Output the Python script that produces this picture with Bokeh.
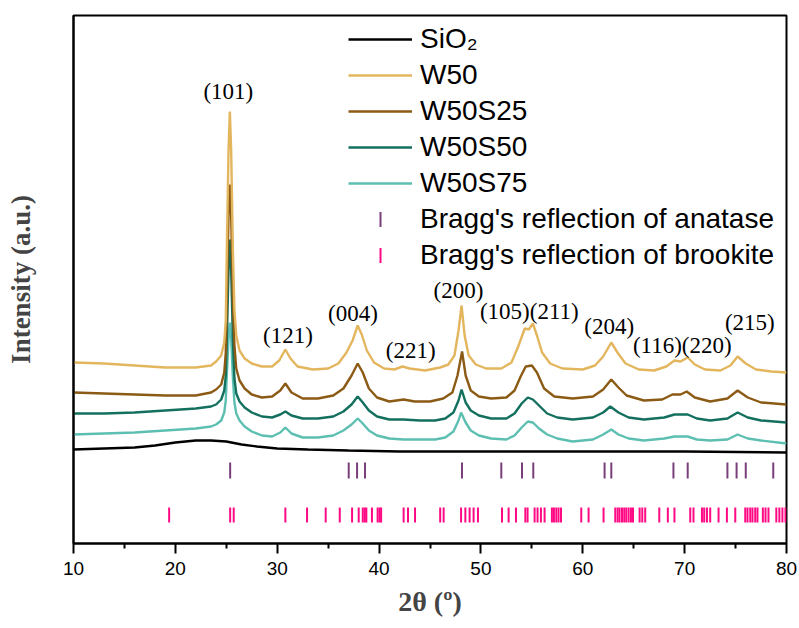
from bokeh.plotting import figure
from bokeh.models import Range1d, FixedTicker, Legend, LegendItem, ColumnDataSource
from bokeh.core.properties import value
from bokeh.embed import file_html
from bokeh.resources import INLINE

# ---- data (2θ in degrees, intensity in a.u.) ----
head_x = [10, 13, 16, 19, 22, 23.5, 24.0, 24.5, 24.8, 24.95, 25.05, 25.22, 25.35, 25.48, 25.65, 25.8, 25.98, 26.3]

w50_x = head_x + [26.8, 27.5,
         28.5, 29.5, 30.2, 30.8, 31.3, 32.0, 33.5, 35.0, 36.0, 36.8, 37.4, 37.9, 38.3, 38.8, 39.5, 40.5, 41.5, 42.3,
         43.0, 44.5, 46.0, 46.8, 47.4, 47.8, 48.1, 48.4, 48.8, 49.5, 50.5, 52.0, 53.0, 53.7, 54.3, 54.7, 55.1, 55.5,
         56.0, 56.8, 58.0, 60.0, 61.2, 62.0, 62.8, 63.4, 64.2, 65.5, 67.0, 68.2, 69.0, 69.6, 70.3, 71.0, 72.0, 73.5,
         74.5, 75.2, 76.0, 77.0, 78.5, 80.0]
w50_y = [181, 180, 178, 176, 176, 178, 182, 188, 201, 223, 293, 393, 432, 393, 293, 233, 208, 193, 185, 180,
         177, 177, 183, 194, 185, 177, 174, 175, 180, 191, 203, 218, 209, 193, 181, 175, 174, 177,
         175, 173, 176, 179, 188, 213, 238, 208, 188, 179, 175, 175, 181, 198, 215, 214, 220, 208,
         191, 180, 175, 174, 178, 187, 201, 191, 180, 174, 173, 177, 183, 182, 186, 179, 174, 173,
         178, 187, 180, 174, 172, 171]

s25_x = head_x + [26.8, 27.5,
         28.5, 29.5, 30.3, 30.8, 31.4, 32.5, 34.0, 35.5, 36.5, 37.3, 37.9, 38.4, 39.0, 39.8, 41.0, 42.4, 43.5,
         45.0, 46.3, 47.2, 47.7, 48.15, 48.5, 49.0, 49.8, 51.0, 52.5, 53.3, 53.9, 54.4, 55.0, 55.5, 56.2, 57.2,
         59.0, 61.0, 62.0, 62.8, 63.5, 64.3, 66.0, 67.8, 68.8, 69.6, 70.2, 71.0, 72.5, 74.2, 75.2, 76.2, 77.5, 80.0]
s25_y = [151, 150, 149, 148, 148, 151, 154, 159, 171, 191, 243, 328, 359, 328, 243, 198, 175, 163, 155, 149,
         146, 147, 153, 160, 151, 145, 145, 148, 155, 168, 180, 171, 155, 146, 142, 144, 142,
         142, 145, 151, 168, 192, 168, 153, 147, 145, 146, 153, 167, 177, 178, 171, 155, 147,
         145, 147, 154, 164, 156, 148, 143, 144, 149, 149, 152, 146, 142, 145, 153, 146, 141, 139]

s50_x = head_x + [26.8, 27.5,
         28.5, 29.5, 30.3, 30.8, 31.4, 32.5, 34.0, 35.5, 36.5, 37.3, 37.9, 38.4, 39.0, 39.8, 41.0, 42.4, 44.0,
         45.5, 46.5, 47.3, 47.8, 48.1, 48.5, 49.0, 49.8, 51.0, 52.5, 53.3, 54.0, 54.6, 55.1, 55.7, 56.5, 57.5,
         59.0, 61.0, 62.0, 62.7, 63.5, 64.5, 66.0, 68.0, 69.0, 70.3, 71.2, 72.5, 74.2, 75.2, 76.2, 77.5, 80.0]
s50_y = [130, 130, 131, 133, 135, 137, 139, 144, 153, 168, 203, 273, 304, 273, 203, 165, 150, 142, 136, 131,
         127, 126, 129, 132, 128, 125, 125, 127, 132, 139, 147, 141, 133, 127, 124, 124, 123,
         123, 125, 131, 143, 154, 141, 133, 128, 125, 125, 130, 140, 146, 144, 138, 130, 126,
         124, 126, 131, 137, 131, 126, 124, 126, 129, 129, 125, 123, 125, 131, 126, 123, 121]

s75_x = head_x + [26.8, 27.5,
         28.5, 29.5, 30.3, 30.8, 31.4, 32.5, 34.0, 35.5, 36.5, 37.3, 37.9, 38.4, 39.0, 39.8, 41.0, 42.4, 44.0,
         45.5, 46.5, 47.3, 47.8, 48.05, 48.5, 49.0, 49.8, 51.0, 52.5, 53.3, 54.0, 54.6, 55.1, 55.7, 56.5, 57.5,
         59.0, 61.0, 62.0, 62.8, 63.5, 64.5, 66.0, 68.0, 69.0, 70.3, 71.2, 72.5, 74.2, 75.2, 76.2, 77.5, 80.0]
s75_y = [109, 110, 111, 113, 115, 117, 119, 123, 131, 143, 168, 205, 221, 205, 165, 141, 130, 123, 117, 112,
         108, 107, 111, 116, 110, 106, 106, 108, 113, 119, 125, 120, 113, 108, 105, 104, 104,
         104, 106, 112, 123, 131, 121, 113, 108, 105, 104, 108, 116, 122, 121, 115, 109, 105,
         102, 104, 109, 114, 109, 105, 103, 105, 107, 107, 104, 103, 104, 109, 105, 103, 100]

sio2_x = [10, 13, 16, 18, 20, 22, 23.5, 25, 26.5, 28, 30, 33, 37, 42, 50, 60, 70, 80]
sio2_y = [94, 95, 96, 98, 101, 103, 103, 102, 99, 97, 95, 94, 93, 92, 92, 92, 92, 91]

anatase_pos = [25.38, 37.02, 37.84, 38.62, 48.14, 52.0, 54.03, 55.14, 62.14, 62.8, 68.9, 70.3,
               74.2, 75.1, 76.0, 78.7]
brookite_pos = [19.39, 25.38, 25.73, 30.8, 32.93, 34.76, 36.14, 37.35, 38.0, 38.4, 38.6, 38.75, 39.3,
                39.86, 40.05, 40.2, 42.41, 42.84, 43.53, 46.0, 46.34, 48.05, 48.47, 48.89, 49.28, 49.71,
                52.07, 52.72, 53.44, 54.36, 54.58, 55.27, 55.56, 55.89, 56.25, 56.97, 57.17, 57.4, 57.62,
                57.86, 59.85, 60.57, 62.04, 63.19, 63.42, 63.61, 63.85, 64.07, 64.27, 64.5, 64.73, 64.93,
                65.58, 65.84, 66.13, 67.51, 68.35, 69.0, 70.55, 70.87, 71.7, 71.92, 72.19, 72.51, 73.33,
                74.15, 74.97, 75.95, 76.17, 76.44, 76.66, 76.93, 77.15, 77.68, 77.94, 78.23, 79.0, 79.3,
                79.6, 79.9]
anatase_level = 73
brookite_level = 28.5

peak_labels = ["(101)", "(121)", "(004)", "(221)", "(200)", "(105)(211)", "(204)", "(116)(220)", "(215)"]
peak_label_x = [25.2, 31.05, 37.43, 43.1, 47.8, 54.75, 62.6, 69.77, 76.4]
peak_label_y = [452, 208, 230, 193, 253, 232, 217, 198, 221]

x_ticks = [10, 20, 30, 40, 50, 60, 70, 80]
x_minor = [15, 25, 35, 45, 55, 65, 75]

# ---- layout constants ----
W, H = 799, 628
BL, BR, BT, BB = 73, 13, 15, 85
FW, FH = W - BL - BR, H - BT - BB

p = figure(width=W, height=H, output_backend="svg", toolbar_location=None,
           x_range=Range1d(10, 80), y_range=Range1d(0, 528))
p.min_border_left = BL
p.min_border_right = BR
p.min_border_top = BT
p.min_border_bottom = BB
p.xgrid.visible = False
p.ygrid.visible = False
p.outline_line_color = "black"
p.outline_line_width = 2
p.background_fill_color = "white"
p.border_fill_color = "white"
# pixel space of the frame, used only to place the legend keys of the Bragg markers
p.extra_x_ranges = {"px": Range1d(0, FW)}
p.extra_y_ranges = {"px": Range1d(0, FH)}

LW = 2.4
r_sio2 = p.line(sio2_x, sio2_y, line_color="#000000", line_width=LW)
r_s75 = p.line(s75_x, s75_y, line_color="#5CBFB2", line_width=LW)
r_s50 = p.line(s50_x, s50_y, line_color="#14705E", line_width=LW)
r_s25 = p.line(s25_x, s25_y, line_color="#8B5A14", line_width=LW)
r_w50 = p.line(w50_x, w50_y, line_color="#E3B65E", line_width=LW)

ANA_C, BRO_C = "#7A3F7A", "#FF0A84"
r_ana = p.scatter(anatase_pos, [anatase_level] * len(anatase_pos), marker="dash", angle=1.5708,
                  size=16, line_color=ANA_C, line_width=2)
r_bro = p.scatter(brookite_pos, [brookite_level] * len(brookite_pos), marker="dash", angle=1.5708,
                  size=15, line_color=BRO_C, line_width=2)
# invisible stand-ins so the legend key can be drawn vertical
r_ana_key = p.scatter([], [], marker="dash", line_alpha=0, fill_alpha=0)
r_bro_key = p.scatter([], [], marker="dash", line_alpha=0, fill_alpha=0)

lab_src = ColumnDataSource(dict(x=peak_label_x, y=peak_label_y, t=peak_labels))
p.text(x="x", y="y", text="t", source=lab_src, text_align="center", text_baseline="middle",
       text_font=value("Liberation Serif"), text_font_size="23px", text_color="black")

# axes
xa = p.xaxis[0]
xa.ticker = FixedTicker(ticks=x_ticks, minor_ticks=x_minor)
xa.axis_line_width = 2
xa.major_tick_line_width = 2
xa.minor_tick_line_width = 2
xa.major_tick_out = 10
xa.major_tick_in = 0
xa.minor_tick_out = 5
xa.minor_tick_in = 0
xa.major_label_standoff = 8
xa.major_label_text_font = "Liberation Sans"
xa.major_label_text_font_size = "19px"
xa.major_label_text_color = "black"
xa.axis_label = "2θ (º)"
xa.axis_label_text_font = "Liberation Serif"
xa.axis_label_text_font_style = "bold"
xa.axis_label_text_font_size = "28px"
xa.axis_label_standoff = 8

ya = p.yaxis[0]
ya.ticker = FixedTicker(ticks=[])
ya.axis_line_width = 2
ya.major_tick_line_color = None
ya.minor_tick_line_color = None
ya.major_label_text_font_size = "0px"
ya.axis_label = "Intensity (a.u.)"
ya.axis_label_text_font = "Liberation Serif"
ya.axis_label_text_font_style = "bold"
ya.axis_label_text_font_size = "27px"
ya.axis_label_standoff = 38

# legend
LEG_X, LEG_Y = 275, 272
ITEM_H, SPACING, GLYPH_W = 32, 4, 64
legend = Legend(items=[
    LegendItem(label="SiO₂", renderers=[r_sio2]),
    LegendItem(label="W50", renderers=[r_w50]),
    LegendItem(label="W50S25", renderers=[r_s25]),
    LegendItem(label="W50S50", renderers=[r_s50]),
    LegendItem(label="W50S75", renderers=[r_s75]),
    LegendItem(label="Bragg's reflection of anatase", renderers=[r_ana_key]),
    LegendItem(label="Bragg's reflection of brookite", renderers=[r_bro_key]),
], location=(LEG_X, LEG_Y))
legend.border_line_color = None
legend.background_fill_alpha = 0
legend.padding = 0
legend.margin = 0
legend.spacing = SPACING
legend.glyph_width = GLYPH_W
legend.glyph_height = ITEM_H
legend.label_height = ITEM_H
legend.label_standoff = 8
legend.label_text_font = "Liberation Sans"
legend.label_text_font_size = "28px"
legend.label_text_color = "black"
p.add_layout(legend, "center")

n_items = 7
leg_h = n_items * ITEM_H + (n_items - 1) * SPACING
key_x = LEG_X + GLYPH_W / 2
key_y = [LEG_Y + leg_h - (i * (ITEM_H + SPACING) + ITEM_H / 2) for i in (5, 6)]
p.scatter([key_x], [key_y[0]], x_range_name="px", y_range_name="px", marker="dash", angle=1.5708,
          size=15, line_color=ANA_C, line_width=2)
p.scatter([key_x], [key_y[1]], x_range_name="px", y_range_name="px", marker="dash", angle=1.5708,
          size=15, line_color=BRO_C, line_width=2)

open("out.html", "w").write(file_html(p, INLINE))
